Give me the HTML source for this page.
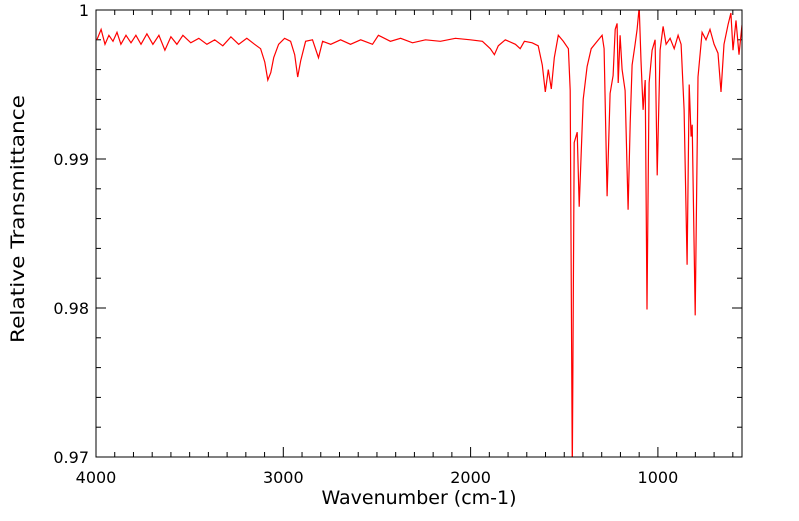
<!DOCTYPE html>
<html><head><meta charset="utf-8"><style>
body{margin:0;background:#fff;}
svg text{font-family:"DejaVu Sans","Liberation Sans",sans-serif;font-size:16px;fill:#000;}
svg text.title{font-size:19px;}
svg text.ytitle{font-size:19px;}
</style></head><body>
<svg id="chart" width="799" height="516" viewBox="0 0 799 516" xmlns="http://www.w3.org/2000/svg">
<defs><clipPath id="plotclip"><rect x="96" y="10" width="646" height="447"/></clipPath></defs>
<g id="axes"></g>
<path id="line" fill="none" stroke="#ff0000" stroke-width="1.2" clip-path="url(#plotclip)"/>
<rect x="96" y="10" width="646" height="447" fill="none" stroke="#000" stroke-width="1"/>
<text class="title" x="419" y="504" text-anchor="middle">Wavenumber (cm-1)</text>
<text class="ytitle" transform="translate(24,219) rotate(-90)" text-anchor="middle" textLength="248" lengthAdjust="spacingAndGlyphs">Relative Transmittance</text>
</svg>
<script>
const wavenumbers=[3995,3973,3952,3931,3909,3888,3867,3840,3813,3787,3760,3728,3696,3664,3632,3600,3568,3536,3494,3451,3408,3366,3323,3280,3238,3195,3153,3121,3099,3083,3067,3051,3025,2993,2961,2939,2923,2907,2881,2844,2812,2790,2747,2694,2641,2587,2524,2492,2428,2374,2310,2241,2161,2081,2001,1937,1895,1873,1852,1815,1761,1735,1713,1671,1639,1617,1601,1585,1569,1553,1532,1505,1478,1468,1457,1447,1431,1420,1399,1378,1356,1324,1298,1287,1271,1255,1239,1228,1218,1212,1202,1191,1175,1159,1148,1138,1122,1111,1100,1090,1079,1068,1058,1047,1031,1015,1004,988,972,956,935,913,892,876,860,844,833,823,817,801,786,764,743,722,700,679,663,647,626,610,599,583,567,551];
const transmittance=[.9980,.9987,.9977,.9983,.9979,.9985,.9977,.9983,.9978,.9983,.9977,.9984,.9977,.9983,.9973,.9982,.9977,.9983,.9978,.9981,.9977,.9980,.9976,.9982,.9977,.9981,.9977,.9974,.9965,.9953,.9958,.9968,.9977,.9981,.9979,.9970,.9955,.9966,.9979,.9980,.9968,.9979,.9977,.9980,.9977,.9980,.9977,.9983,.9979,.9981,.9978,.9980,.9979,.9981,.9980,.9979,.9974,.9970,.9976,.9980,.9977,.9974,.9979,.9978,.9976,.9963,.9945,.9960,.9947,.9968,.9983,.9979,.9974,.9946,.9690,.9911,.9918,.9868,.9940,.9962,.9974,.9979,.9983,.9974,.9875,.9944,.9956,.9987,.9991,.9951,.9983,.9960,.9946,.9866,.9924,.9963,.9977,.9987,1.0002,.9966,.9933,.9953,.9799,.9951,.9973,.9980,.9889,.9973,.9989,.9977,.9981,.9974,.9983,.9977,.9933,.9829,.9950,.9915,.9923,.9795,.9955,.9985,.9980,.9987,.9977,.9971,.9945,.9977,.9990,.9998,.9973,.9993,.9970,.9990];
const xTickLabels=[4000,3000,2000,1000];
const yTickLabels=[0.97,0.98,0.99,1];
const xMax=4000,xMin=551,yMin=0.97,yMax=1.0;
const L=96,R=742,T=10,B=457;
function sx(w){return L+(xMax-w)/(xMax-xMin)*(R-L);}
function sy(v){return B-(v-yMin)/(yMax-yMin)*(B-T);}
const ns="http://www.w3.org/2000/svg";
const axes=document.getElementById('axes');
function line(x1,y1,x2,y2,name){const l=document.createElementNS(ns,'line');l.setAttribute('x1',x1);l.setAttribute('y1',y1);l.setAttribute('x2',x2);l.setAttribute('y2',y2);l.setAttribute('stroke','#000');l.setAttribute('stroke-width','1');


axes.appendChild(l);}
for(let w=4000;w>=xMin;w-=100){const x=sx(w);const len=(w%1000===0)?10:5;line(x,B,x,B-len,'x-tick');line(x,T,x,T+len,'x-tick-top');}
for(let v=0;v<=15;v++){const val=yMin+v*0.002;const y=sy(val);const len=(v%5===0)?10:5;line(L,y,L+len,y,'y-tick');line(R,y,R-len,y,'y-tick-right');}
xTickLabels.forEach(w=>{const t=document.createElementNS(ns,'text');t.setAttribute('x',sx(w));t.setAttribute('y',483);t.setAttribute('text-anchor','middle');t.textContent=w;


axes.appendChild(t);});
yTickLabels.forEach(v=>{const t=document.createElementNS(ns,'text');t.setAttribute('x',89);t.setAttribute('y',sy(v)+6);t.setAttribute('text-anchor','end');t.textContent=String(v);


axes.appendChild(t);});
let d='';wavenumbers.forEach((w,i)=>{d+=(i?'L':'M')+sx(w).toFixed(1)+','+sy(transmittance[i]).toFixed(1);});
document.getElementById('line').setAttribute('d',d);
</script>
</body></html>
